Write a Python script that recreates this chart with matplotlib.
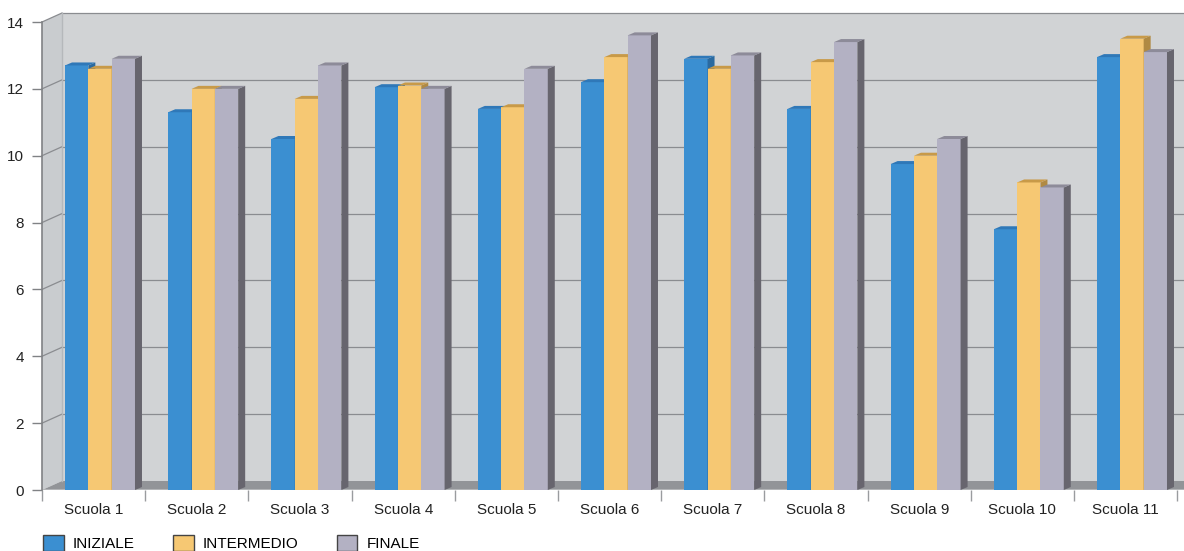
import numpy as np
import matplotlib.pyplot as plt
from matplotlib.patches import Polygon, Patch

plt.rcParams['font.family'] = ['Liberation Sans', 'DejaVu Sans']

# Dati
scuole = ["Scuola %d" % i for i in range(1, 12)]
iniziale = [12.7, 11.3, 10.5, 12.05, 11.4, 12.2, 12.9, 11.4, 9.75, 7.8, 12.95]
intermedio = [12.6, 12.0, 11.7, 12.1, 11.45, 12.95, 12.6, 12.8, 10.0, 9.2, 13.5]
finale = [12.9, 12.0, 12.7, 12.0, 12.6, 13.6, 13.0, 13.4, 10.5, 9.05, 13.1]
serie = ["INIZIALE", "INTERMEDIO", "FINALE"]
y_ticks = [0, 2, 4, 6, 8, 10, 12, 14]

# colori: fronte, lato, sommità
front_cols = ["#3b8fd1", "#f6c873", "#b3b1c3"]
side_cols = ["#2a6aa0", "#b08a43", "#67656e"]
top_cols = ["#2f78b8", "#c89a48", "#8d8b99"]

W, H = 1184, 551
fig = plt.figure(figsize=(W / 100, H / 100), dpi=100)
ax = fig.add_axes([42 / W, (H - 490) / H, 1142 / W, 468 / H])

px_x = 103.2            # pixel per gruppo
px_y = 468 / 14         # pixel per unità
xmax = 1142 / px_x
ax.set_xlim(0, xmax)
ax.set_ylim(0, 14)

# profondità 3D della parete e delle barre
dxw, dyw = 20 / px_x, 9 / px_y
dxb, dyb = 7 / px_x, 3 / px_y

# parete laterale
ax.add_patch(Polygon([(0, 0), (dxw, dyw), (dxw, 14 + dyw), (0, 14)], closed=True,
                     facecolor="#c9cccf", edgecolor="none", clip_on=False, zorder=0))
# parete di fondo
ax.add_patch(Polygon([(dxw, dyw), (xmax, dyw), (xmax, 14 + dyw), (dxw, 14 + dyw)], closed=True,
                     facecolor="#d1d3d5", edgecolor="none", clip_on=False, zorder=0))
# pavimento
ax.add_patch(Polygon([(0, 0), (dxw, dyw), (xmax, dyw), (xmax, 0)], closed=True,
                     facecolor="#929498", edgecolor="none", clip_on=False, zorder=0.5))

# griglia
for v in y_ticks[1:]:
    ax.plot([0, dxw], [v, v + dyw], color="#8a8c90", lw=0.9, clip_on=False, zorder=0.6)
    ax.plot([dxw, xmax], [v + dyw, v + dyw], color="#8a8c90", lw=0.9, clip_on=False, zorder=0.6)
ax.plot([dxw, dxw], [dyw, 14 + dyw], color="#b5b8bb", lw=1, clip_on=False, zorder=0.6)

# barre
width = 0.226
offsets = [0.223, 0.449, 0.675]
z = 2
for g in range(len(scuole)):
    for k, vals in enumerate([iniziale, intermedio, finale]):
        x0 = g + offsets[k]
        h = vals[g]
        ax.bar(x0, h, width=width, align="edge", color=front_cols[k],
               edgecolor="none", zorder=z)
        ax.add_patch(Polygon([(x0 + width, 0), (x0 + width + dxb, dyb),
                              (x0 + width + dxb, h + dyb), (x0 + width, h)], closed=True,
                             facecolor=side_cols[k], edgecolor="none", zorder=z))
        ax.add_patch(Polygon([(x0, h), (x0 + width, h), (x0 + width + dxb, h + dyb),
                              (x0 + dxb, h + dyb)], closed=True,
                             facecolor=top_cols[k], edgecolor="none", zorder=z, clip_on=False))
        z += 1

# assi
for s in ["top", "right", "bottom"]:
    ax.spines[s].set_visible(False)
ax.spines["left"].set_color("#808285")
ax.spines["left"].set_linewidth(1.2)
ax.axhline(0, color="#b9bbbe", lw=1.2, zorder=1)

ax.set_yticks(y_ticks)
ax.tick_params(axis="y", length=7, width=1, color="#808285", pad=6, labelsize=11,
               labelcolor="#222222")

ax.set_xticks(np.arange(0, len(scuole) + 1))
ax.set_xticklabels([])
ax.set_xticks(np.arange(len(scuole)) + 0.5, minor=True)
ax.set_xticklabels(scuole, minor=True)
ax.tick_params(axis="x", which="major", length=8, width=1, color="#9a9c9f", pad=2)
ax.tick_params(axis="x", which="minor", length=0, pad=9, labelsize=11, labelcolor="#222222")

# legenda
handles = [Patch(facecolor=c, edgecolor="#444444", linewidth=1) for c in front_cols]
fig.legend(handles, serie, loc="center left", bbox_to_anchor=(37 / W, 1 - 543 / H),
           ncol=3, frameon=False, fontsize=11, handlelength=1.35, handleheight=1.3,
           handletextpad=0.6, columnspacing=2.5, borderaxespad=0)

plt.savefig("out.png", dpi=100)
